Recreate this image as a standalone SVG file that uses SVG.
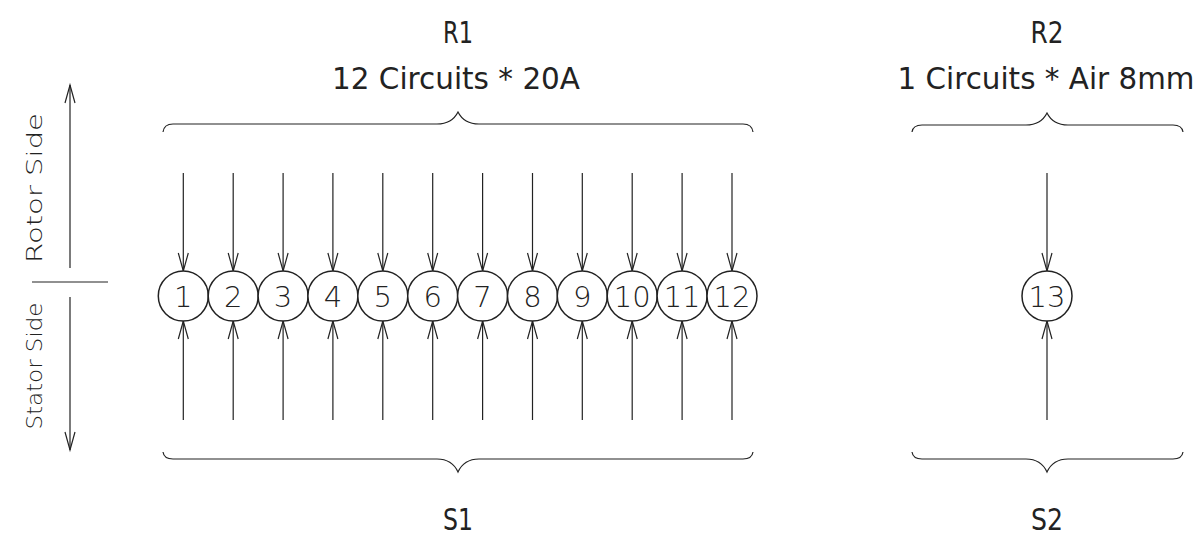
<svg xmlns="http://www.w3.org/2000/svg" width="1203" height="536" viewBox="0 0 1203 536">
<defs>
<marker id="v" markerUnits="userSpaceOnUse" markerWidth="24" markerHeight="14" viewBox="-20 -7 24 14" refX="0" refY="0" orient="auto">
<path d="M-18,-5 L0,0 L-18,5" fill="none" stroke="#222" stroke-width="1.2"/>
</marker>
<style>
.ln{stroke:#222;stroke-width:1.2;fill:none}
.ar{stroke:#222;stroke-width:1.2;fill:none;marker-end:url(#v)}
.cir{stroke:#222;stroke-width:1.5;fill:#fff}
.num{font-family:"DejaVu Sans",sans-serif;font-weight:200;font-size:29px;fill:#222;text-anchor:middle}
.ttl{font-family:"DejaVu Sans","Liberation Sans",sans-serif;font-size:30px;fill:#222;text-anchor:middle}
.side{font-family:"DejaVu Sans",sans-serif;font-weight:200;font-size:21px;fill:#222;text-anchor:middle}
</style>
</defs>
<rect width="1203" height="536" fill="#fff"/>

<g id="labels">
<text class="ttl" x="458" y="43" textLength="30" lengthAdjust="spacingAndGlyphs">R1</text>
<text class="ttl" x="456" y="89" textLength="248" lengthAdjust="spacingAndGlyphs">12 Circuits * 20A</text>
<text class="ttl" x="1047" y="43" textLength="33" lengthAdjust="spacingAndGlyphs">R2</text>
<text class="ttl" x="1046" y="89" textLength="297" lengthAdjust="spacingAndGlyphs">1 Circuits * Air 8mm</text>
<text class="ttl" x="458" y="530" textLength="30" lengthAdjust="spacingAndGlyphs">S1</text>
<text class="ttl" x="1047" y="530" textLength="32" lengthAdjust="spacingAndGlyphs">S2</text>
<text class="side" x="42" y="188" transform="rotate(-90 42 188)" textLength="150" lengthAdjust="spacingAndGlyphs">Rotor  Side</text>
<text class="side" x="42" y="366" transform="rotate(-90 42 366)" textLength="127" lengthAdjust="spacingAndGlyphs">Stator  Side</text>
</g>

<g id="braces">
<path class="ln" d="M163,132 Q164,124 173,124 L437,124 Q452,124 458,112 Q464,124 479,124 L743,124 Q752,124 753,132"/>
<path class="ln" d="M163,452 Q164,459 173,459 L437,459 Q452,459 458,472 Q464,459 479,459 L743,459 Q752,459 753,452"/>
<path class="ln" d="M912,132 Q913,125 922,125 L1026,125 Q1041,125 1047,113 Q1053,125 1068,125 L1173,125 Q1182,125 1183,132"/>
<path class="ln" d="M912,452 Q913,459 922,459 L1026,459 Q1041,459 1047,472 Q1053,459 1068,459 L1173,459 Q1182,459 1183,452"/>
</g>

<g id="connectors">
<path class="ar" d="M70,268 L70,85"/>
<path class="ar" d="M70,297 L70,450"/>
<path class="ln" d="M32,282 L108,282"/>
<path class="ar" d="M183.3,173 L183.3,271"/><path class="ar" d="M183.3,420 L183.3,321"/>
<path class="ar" d="M233.2,173 L233.2,271"/><path class="ar" d="M233.2,420 L233.2,321"/>
<path class="ar" d="M283.1,173 L283.1,271"/><path class="ar" d="M283.1,420 L283.1,321"/>
<path class="ar" d="M332.9,173 L332.9,271"/><path class="ar" d="M332.9,420 L332.9,321"/>
<path class="ar" d="M382.8,173 L382.8,271"/><path class="ar" d="M382.8,420 L382.8,321"/>
<path class="ar" d="M432.7,173 L432.7,271"/><path class="ar" d="M432.7,420 L432.7,321"/>
<path class="ar" d="M482.6,173 L482.6,271"/><path class="ar" d="M482.6,420 L482.6,321"/>
<path class="ar" d="M532.5,173 L532.5,271"/><path class="ar" d="M532.5,420 L532.5,321"/>
<path class="ar" d="M582.3,173 L582.3,271"/><path class="ar" d="M582.3,420 L582.3,321"/>
<path class="ar" d="M632.2,173 L632.2,271"/><path class="ar" d="M632.2,420 L632.2,321"/>
<path class="ar" d="M682.1,173 L682.1,271"/><path class="ar" d="M682.1,420 L682.1,321"/>
<path class="ar" d="M732,173 L732,271"/><path class="ar" d="M732,420 L732,321"/>
<path class="ar" d="M1047,173 L1047,271"/><path class="ar" d="M1047,420 L1047,321"/>
</g>

<g id="n1"><circle class="cir" cx="183.3" cy="296" r="25"/><text class="num" x="183.3" y="306.5">1</text></g>
<g id="n2"><circle class="cir" cx="233.2" cy="296" r="25"/><text class="num" x="233.2" y="306.5">2</text></g>
<g id="n3"><circle class="cir" cx="283.1" cy="296" r="25"/><text class="num" x="283.1" y="306.5">3</text></g>
<g id="n4"><circle class="cir" cx="332.9" cy="296" r="25"/><text class="num" x="332.9" y="306.5">4</text></g>
<g id="n5"><circle class="cir" cx="382.8" cy="296" r="25"/><text class="num" x="382.8" y="306.5">5</text></g>
<g id="n6"><circle class="cir" cx="432.7" cy="296" r="25"/><text class="num" x="432.7" y="306.5">6</text></g>
<g id="n7"><circle class="cir" cx="482.6" cy="296" r="25"/><text class="num" x="482.6" y="306.5">7</text></g>
<g id="n8"><circle class="cir" cx="532.5" cy="296" r="25"/><text class="num" x="532.5" y="306.5">8</text></g>
<g id="n9"><circle class="cir" cx="582.3" cy="296" r="25"/><text class="num" x="582.3" y="306.5">9</text></g>
<g id="n10"><circle class="cir" cx="632.2" cy="296" r="25"/><text class="num" x="632.2" y="306.5">10</text></g>
<g id="n11"><circle class="cir" cx="682.1" cy="296" r="25"/><text class="num" x="682.1" y="306.5">11</text></g>
<g id="n12"><circle class="cir" cx="732" cy="296" r="25"/><text class="num" x="732" y="306.5">12</text></g>
<g id="n13"><circle class="cir" cx="1047" cy="296" r="25"/><text class="num" x="1047" y="306.5">13</text></g>
</svg>
